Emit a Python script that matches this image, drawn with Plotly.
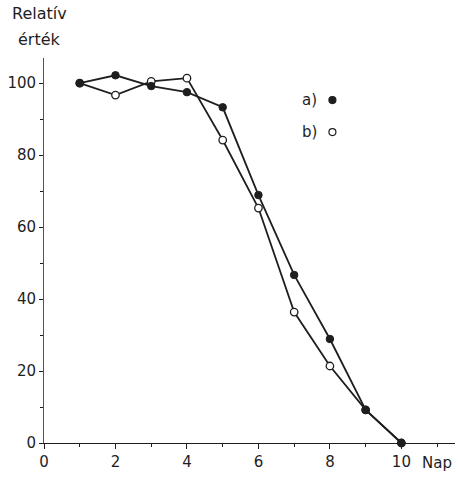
import plotly.graph_objects as go

# Daily relative values for the two series (a: filled, b: open)
days = [1, 2, 3, 4, 5, 6, 7, 8, 9, 10]
series_a = [100, 102.2, 99.2, 97.5, 93.3, 68.9, 46.7, 28.9, 9.2, 0]
series_b = [100, 96.7, 100.5, 101.4, 84.2, 65.3, 36.4, 21.4, 9.2, 0]

x_ticks = [0, 2, 4, 6, 8, 10]
y_ticks = [0, 20, 40, 60, 80, 100]

INK = "#1e1e1e"
FONT = dict(family="DejaVu Sans", size=15, color=INK)
TITLE_FONT = dict(family="DejaVu Sans", size=16, color=INK)

fig = go.Figure()

fig.add_trace(go.Scatter(
    x=days, y=series_b, mode="lines+markers",
    line=dict(color=INK, width=1.8),
    marker=dict(symbol="circle", size=7.5, color="white",
                line=dict(color=INK, width=1.3)),
    cliponaxis=False, showlegend=False,
))
fig.add_trace(go.Scatter(
    x=days, y=series_a, mode="lines+markers",
    line=dict(color=INK, width=1.8),
    marker=dict(symbol="circle", size=7.5, color=INK,
                line=dict(color=INK, width=1)),
    cliponaxis=False, showlegend=False,
))

# Key symbols next to the "a)" / "b)" labels
fig.add_trace(go.Scatter(
    x=[8.07, 8.07], y=[95.3, 86.4], mode="markers",
    marker=dict(symbol="circle", size=7, color=[INK, "white"],
                line=dict(color=INK, width=1.2)),
    cliponaxis=False, showlegend=False, hoverinfo="skip",
))

annotations = [
    dict(x=7.7, y=95.3, text="a)", xref="x", yref="y", showarrow=False,
         xanchor="right", yanchor="middle", font=FONT),
    dict(x=7.7, y=86.4, text="b)", xref="x", yref="y", showarrow=False,
         xanchor="right", yanchor="middle", font=FONT),
    dict(x=11.0, y=0, text="Nap", xref="x", yref="y", showarrow=False,
         xanchor="center", yanchor="top", yshift=-9, font=FONT),
    dict(x=39, y=14, text="Relatív", xref="paper", yref="paper",
         showarrow=False, xanchor="center", yanchor="middle", font=TITLE_FONT),
    dict(x=39, y=40, text="érték", xref="paper", yref="paper",
         showarrow=False, xanchor="center", yanchor="middle", font=TITLE_FONT),
]

# Convert the two title lines from pixel positions to paper coordinates
plot_w = 458 - 44 - 3
plot_h = 477 - 58 - 34
for a in annotations[3:]:
    a["x"] = (a["x"] - 44) / plot_w
    a["y"] = (477 - 34 - a["y"]) / plot_h

fig.update_layout(
    width=458, height=477,
    margin=dict(l=44, r=3, t=58, b=34),
    paper_bgcolor="white", plot_bgcolor="white",
    font=FONT,
    annotations=annotations,
    xaxis=dict(
        range=[0, 11.5], tickvals=x_ticks, ticktext=[str(v) for v in x_ticks],
        showgrid=False, zeroline=False, showline=True, linecolor=INK, linewidth=1.2,
        ticks="outside", ticklen=5, tickcolor=INK, tickwidth=1,
        minor=dict(dtick=1, tick0=0, ticks="outside", ticklen=3, tickcolor=INK, showgrid=False),
        tickfont=FONT,
    ),
    yaxis=dict(
        range=[0, 107], tickvals=y_ticks, ticktext=[str(v) for v in y_ticks],
        showgrid=False, zeroline=False, showline=True, linecolor="#555", linewidth=0.8,
        ticks="outside", ticklen=4, tickcolor=INK, tickwidth=1,
        minor=dict(dtick=10, tick0=0, ticks="outside", ticklen=3, tickcolor=INK, showgrid=False),
        tickfont=FONT,
    ),
)

fig.write_html("out.html")
